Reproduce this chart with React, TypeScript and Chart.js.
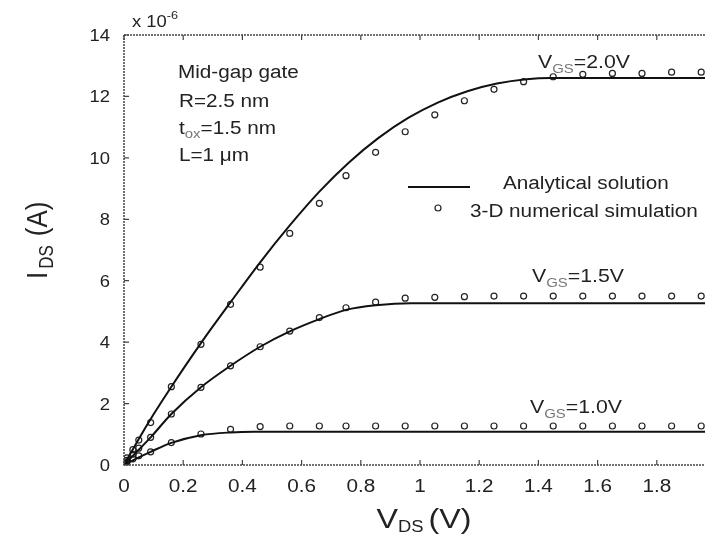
import React, { useEffect, useRef } from "react";
import { Chart, registerables } from "chart.js";

Chart.register(...registerables);

// ---- data ----
// analytical solution lines
const lineVds20 = [0, 0.05, 0.1, 0.16, 0.26, 0.36, 0.46, 0.56, 0.66, 0.76, 0.86, 0.96, 1.06, 1.16, 1.26, 1.36, 1.44, 2.0];
const lineIds20 = [0, 0.85, 1.65, 2.55, 3.97, 5.3, 6.6, 7.8, 8.9, 9.85, 10.65, 11.3, 11.8, 12.17, 12.42, 12.56, 12.6, 12.6];

const lineVds15 = [0, 0.05, 0.09, 0.16, 0.26, 0.36, 0.46, 0.56, 0.66, 0.75, 0.85, 0.97, 2.0];
const lineIds15 = [0, 0.5, 0.9, 1.66, 2.53, 3.23, 3.85, 4.35, 4.75, 5.05, 5.2, 5.27, 5.27];

const lineVds10 = [0, 0.05, 0.09, 0.16, 0.26, 0.36, 0.44, 2.0];
const lineIds10 = [0, 0.25, 0.43, 0.72, 0.97, 1.06, 1.08, 1.08];

// 3-D numerical simulation points
const simVds = [0.01, 0.03, 0.05, 0.09, 0.16, 0.26, 0.36, 0.46, 0.56, 0.66, 0.75, 0.85, 0.95, 1.05, 1.15, 1.25, 1.35, 1.45, 1.55, 1.65, 1.75, 1.85, 1.95];
const simIds20 = [0.23, 0.5, 0.81, 1.38, 2.55, 3.93, 5.23, 6.44, 7.54, 8.52, 9.42, 10.18, 10.85, 11.4, 11.86, 12.23, 12.48, 12.64, 12.72, 12.75, 12.75, 12.79, 12.79];
const simIds15 = [0.15, 0.35, 0.55, 0.9, 1.66, 2.53, 3.23, 3.85, 4.36, 4.8, 5.12, 5.3, 5.43, 5.46, 5.48, 5.5, 5.5, 5.5, 5.5, 5.5, 5.5, 5.5, 5.5];
const simIds10 = [0.1, 0.2, 0.3, 0.43, 0.73, 1.01, 1.16, 1.25, 1.27, 1.27, 1.27, 1.27, 1.27, 1.27, 1.27, 1.27, 1.27, 1.27, 1.27, 1.27, 1.27, 1.27, 1.27];

// axes
const xTickValues = [0, 0.2, 0.4, 0.6, 0.8, 1.0, 1.2, 1.4, 1.6, 1.8, 2.0];
const xTickLabels = ["0", "0.2", "0.4", "0.6", "0.8", "1", "1.2", "1.4", "1.6", "1.8", "2"];
const yTickValues = [0, 2, 4, 6, 8, 10, 12, 14];
const yTickLabels = ["0", "2", "4", "6", "8", "10", "12", "14"];

const curveLabels = ["2.0V", "1.5V", "1.0V"];
const legendLabels = ["Analytical solution", "3-D numerical simulation"];

const FONT = '"Liberation Sans", Arial, Helvetica, sans-serif';
const SX = 1.15;
const TEXT = "#222";
const SUB = "#777";

type Part = { t: string; size: number; dy?: number; color?: string; gap?: number };

function drawParts(
  ctx: CanvasRenderingContext2D,
  parts: Part[],
  x: number,
  y: number,
  align: "left" | "center" | "right" = "left",
  sx: number = SX
) {
  const widths = parts.map((p) => {
    ctx.font = `${p.size}px ${FONT}`;
    return ctx.measureText(p.t).width + (p.gap || 0);
  });
  const total = widths.reduce((a, b) => a + b, 0) * sx;
  const start = align === "center" ? x - total / 2 : align === "right" ? x - total : x;
  ctx.save();
  ctx.translate(start, y);
  ctx.scale(sx, 1);
  ctx.textBaseline = "alphabetic";
  ctx.textAlign = "left";
  let cx = 0;
  parts.forEach((p, i) => {
    ctx.font = `${p.size}px ${FONT}`;
    ctx.fillStyle = p.color || TEXT;
    ctx.fillText(p.t, cx, p.dy || 0);
    cx += widths[i];
  });
  ctx.restore();
}

const toXY = (xs: number[], ys: number[]) => xs.map((x, i) => ({ x, y: ys[i] }));

const decorPlugin = {
  id: "decor",
  afterDraw(chart: any) {
    const ctx: CanvasRenderingContext2D = chart.ctx;
    const { left, right, top, bottom } = chart.chartArea;
    const xs = chart.scales.x;
    const ys = chart.scales.y;

    // frame
    ctx.save();
    ctx.strokeStyle = "#444";
    ctx.lineWidth = 1.5;
    ctx.setLineDash([2, 1]);
    ctx.beginPath();
    ctx.moveTo(left, top);
    ctx.lineTo(left, bottom);
    ctx.lineTo(right, bottom);
    ctx.moveTo(left, top);
    ctx.lineTo(right, top);
    ctx.stroke();
    ctx.setLineDash([]);
    // inward ticks
    ctx.lineWidth = 1.2;
    ctx.beginPath();
    xTickValues.forEach((v) => {
      const px = xs.getPixelForValue(v);
      ctx.moveTo(px, bottom);
      ctx.lineTo(px, bottom - 5);
      ctx.moveTo(px, top);
      ctx.lineTo(px, top + 5);
    });
    yTickValues.forEach((v) => {
      const py = ys.getPixelForValue(v);
      ctx.moveTo(left, py);
      ctx.lineTo(left + 5, py);
    });
    ctx.stroke();
    ctx.restore();

    // tick labels
    xTickValues.forEach((v, i) => {
      drawParts(ctx, [{ t: xTickLabels[i], size: 18 }], xs.getPixelForValue(v), bottom + 27, "center");
    });
    yTickValues.forEach((v, i) => {
      drawParts(ctx, [{ t: yTickLabels[i], size: 16 }], left - 14, ys.getPixelForValue(v) + 6, "right");
    });

    // exponent
    drawParts(ctx, [{ t: "x 10", size: 16 }, { t: "-6", size: 11, dy: -8 }], left + 8, top - 8);

    // axis titles
    drawParts(
      ctx,
      [
        { t: "V", size: 28 },
        { t: "DS", size: 16, dy: 4 },
        { t: " ", size: 16 },
        { t: "(V)", size: 28 },
      ],
      (left + right) / 2 + 4,
      bottom + 63,
      "center"
    );
    ctx.save();
    ctx.translate(47, 279);
    ctx.rotate(-Math.PI / 2);
    ctx.scale(1, SX);
    drawParts(
      ctx,
      [
        { t: "I", size: 26, gap: 3 },
        { t: "DS", size: 17, dy: 5, gap: 9 },
        { t: "(A)", size: 26 },
      ],
      0,
      0,
      "left",
      1
    );
    ctx.restore();

    // device parameters
    const ax = left + 54;
    drawParts(ctx, [{ t: "Mid-gap gate", size: 18 }], ax, top + 43);
    drawParts(ctx, [{ t: "R=2.5 nm", size: 18 }], ax + 1, top + 72);
    drawParts(
      ctx,
      [
        { t: "t", size: 18 },
        { t: "ox", size: 13, dy: 4, color: SUB },
        { t: "=1.5 nm", size: 18 },
      ],
      ax + 1,
      top + 99
    );
    drawParts(ctx, [{ t: "L=1 \u03bcm", size: 18 }], ax + 1, top + 126);

    // curve labels
    const cl = (label: string, x: number, y: number) =>
      drawParts(
        ctx,
        [
          { t: "V", size: 18.5 },
          { t: "GS", size: 13, dy: 5, color: SUB },
          { t: "=" + label, size: 18.5 },
        ],
        x,
        y
      );
    cl(curveLabels[0], 538, 68);
    cl(curveLabels[1], 532, 282);
    cl(curveLabels[2], 530, 413);

    // legend
    ctx.save();
    ctx.strokeStyle = "#111";
    ctx.lineWidth = 2.2;
    ctx.beginPath();
    ctx.moveTo(408, 187);
    ctx.lineTo(470, 187);
    ctx.stroke();
    ctx.lineWidth = 1.2;
    ctx.strokeStyle = "#222";
    ctx.beginPath();
    ctx.arc(438, 208, 3, 0, Math.PI * 2);
    ctx.stroke();
    ctx.restore();
    drawParts(ctx, [{ t: legendLabels[0], size: 18 }], 503, 189);
    drawParts(ctx, [{ t: legendLabels[1], size: 18 }], 470, 217);
  },
};

export default function App() {
  const ref = useRef<HTMLCanvasElement | null>(null);

  useEffect(() => {
    if (!ref.current) return;
    const lineDs = (xs: number[], ys: number[]) => ({
      data: toXY(xs, ys),
      showLine: true,
      borderColor: "#111",
      borderWidth: 2,
      pointRadius: 0,
      fill: false,
      cubicInterpolationMode: "monotone" as const,
    });
    const simDs = (ys: number[]) => ({
      data: toXY(simVds, ys),
      showLine: false,
      pointRadius: 3,
      pointStyle: "circle" as const,
      pointBorderColor: "#222",
      pointBackgroundColor: "rgba(255,255,255,0)",
      pointBorderWidth: 1.2,
      borderColor: "#222",
    });

    const chart = new Chart(ref.current, {
      type: "line",
      data: {
        datasets: [
          lineDs(lineVds20, lineIds20),
          lineDs(lineVds15, lineIds15),
          lineDs(lineVds10, lineIds10),
          simDs(simIds20),
          simDs(simIds15),
          simDs(simIds10),
        ] as any,
      },
      options: {
        responsive: false,
        maintainAspectRatio: false,
        animation: false,
        devicePixelRatio: 1,
        layout: { padding: { top: 35, right: 24, left: 0, bottom: 0 } },
        plugins: { legend: { display: false }, tooltip: { enabled: false } },
        scales: {
          x: {
            type: "linear",
            min: 0,
            max: 2,
            grid: { display: false },
            border: { display: false },
            ticks: { display: false },
            afterFit: (s: any) => {
              s.height = 71;
            },
          },
          y: {
            type: "linear",
            min: 0,
            max: 14,
            grid: { display: false },
            border: { display: false },
            ticks: { display: false },
            afterFit: (s: any) => {
              s.width = 124;
            },
          },
        },
      },
      plugins: [decorPlugin],
    });
    return () => chart.destroy();
  }, []);

  return (
    <div
      style={{
        position: "fixed",
        left: 0,
        top: 0,
        width: 705,
        height: 536,
        overflow: "hidden",
        background: "#fff",
      }}
    >
      <canvas ref={ref} width={740} height={536} style={{ width: 740, height: 536, display: "block" }} />
    </div>
  );
}
